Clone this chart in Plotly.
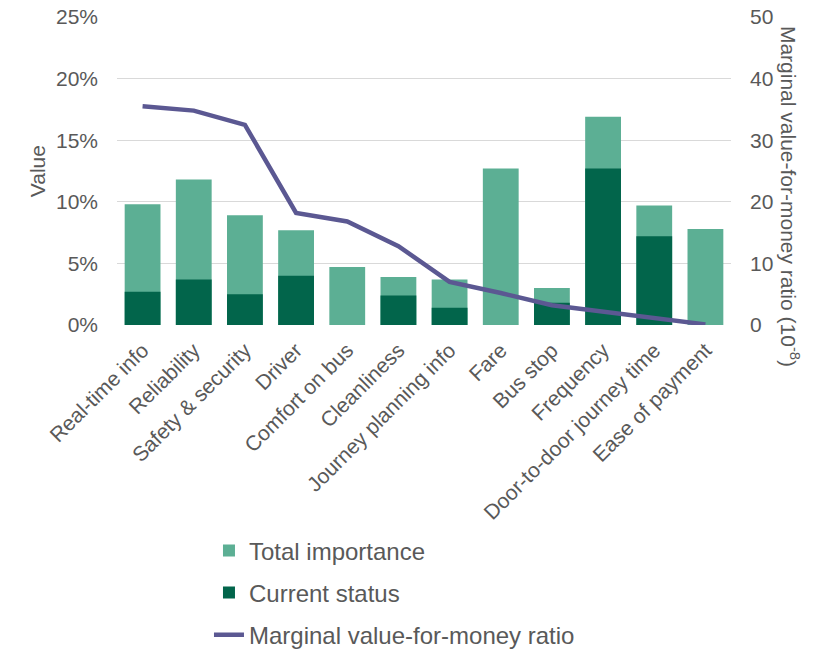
import plotly.graph_objects as go

categories = [
    "Real-time info", "Reliability", "Safety & security", "Driver",
    "Comfort on bus", "Cleanliness", "Journey planning info", "Fare",
    "Bus stop", "Frequency", "Door-to-door journey time", "Ease of payment",
]
total_importance = [9.8, 11.8, 8.9, 7.7, 4.7, 3.9, 3.7, 12.7, 3.0, 16.9, 9.7, 7.8]
current_status = [2.7, 3.7, 2.5, 4.0, 0.0, 2.4, 1.4, 0.0, 1.8, 12.7, 7.2, 0.0]
vfm_ratio = [35.5, 34.8, 32.5, 18.2, 16.8, 12.8, 7.0, 5.2, 3.2, 2.2, 1.2, 0.1]

pct_ticks = [0, 5, 10, 15, 20, 25]
pct_labels = [f"{t}%" for t in pct_ticks]
ratio_ticks = [0, 10, 20, 30, 40, 50]

LIGHT = "#5CAF94"
DARK = "#02654B"
LINE = "#5B5892"
TEXT = "#595959"
GRID = "#D9D9D9"
FONT = "Liberation Sans, Arial, sans-serif"

fig = go.Figure()
fig.add_trace(go.Bar(
    x=categories, y=total_importance, name="Total importance",
    marker=dict(color=LIGHT, line=dict(width=0)), legendgroup="a",
))
fig.add_trace(go.Bar(
    x=categories, y=current_status, name="Current status",
    marker=dict(color=DARK, line=dict(width=0)), legendgroup="b",
))
fig.add_trace(go.Scatter(
    x=categories, y=vfm_ratio, name="Marginal value-for-money ratio",
    mode="lines", line=dict(color=LINE, width=4.5), yaxis="y2",
    legendgroup="c",
))

fig.update_layout(
    width=826, height=649,
    margin=dict(l=117, r=95, t=17, b=324, autoexpand=False),
    paper_bgcolor="white", plot_bgcolor="white",
    font=dict(family=FONT, size=21, color=TEXT),
    barmode="overlay", bargap=0.3,
    showlegend=True,
    legend=dict(
        xref="container", yref="container",
        x=0.253, y=0.186, xanchor="left", yanchor="top",
        orientation="v", tracegroupgap=8,
        font=dict(family=FONT, size=24, color=TEXT),
        bgcolor="rgba(0,0,0,0)",
    ),
    xaxis=dict(
        tickangle=-45, showgrid=False, showline=False, ticks="",
        automargin=False, ticklabelstandoff=8,
        tickfont=dict(family=FONT, size=21, color=TEXT),
    ),
    yaxis=dict(
        range=[0, 25], tickvals=pct_ticks, ticktext=pct_labels,
        showgrid=True, gridcolor=GRID, gridwidth=1,
        zeroline=False, showline=False, ticks="",
        automargin=False, ticklabelstandoff=18,
        tickfont=dict(family=FONT, size=21, color=TEXT),
    ),
    yaxis2=dict(
        range=[0, 50], tickvals=ratio_ticks, overlaying="y", side="right",
        showgrid=False, zeroline=False, showline=False, ticks="",
        automargin=False, ticklabelstandoff=18,
        tickfont=dict(family=FONT, size=21, color=TEXT),
    ),
    annotations=[
        dict(
            text="Value",
            xref="paper", yref="paper", x=-0.130, y=0.5,
            xanchor="center", yanchor="middle", textangle=-90,
            showarrow=False,
            font=dict(family=FONT, size=21, color=TEXT),
        ),
        dict(
            text="Marginal value-for-money ratio (10<sup>-8</sup>)",
            xref="paper", yref="paper", x=1.096, y=0.416,
            xanchor="center", yanchor="middle", textangle=90,
            showarrow=False,
            font=dict(family=FONT, size=21, color=TEXT),
        ),
    ],
)

fig.write_html("out.html")
